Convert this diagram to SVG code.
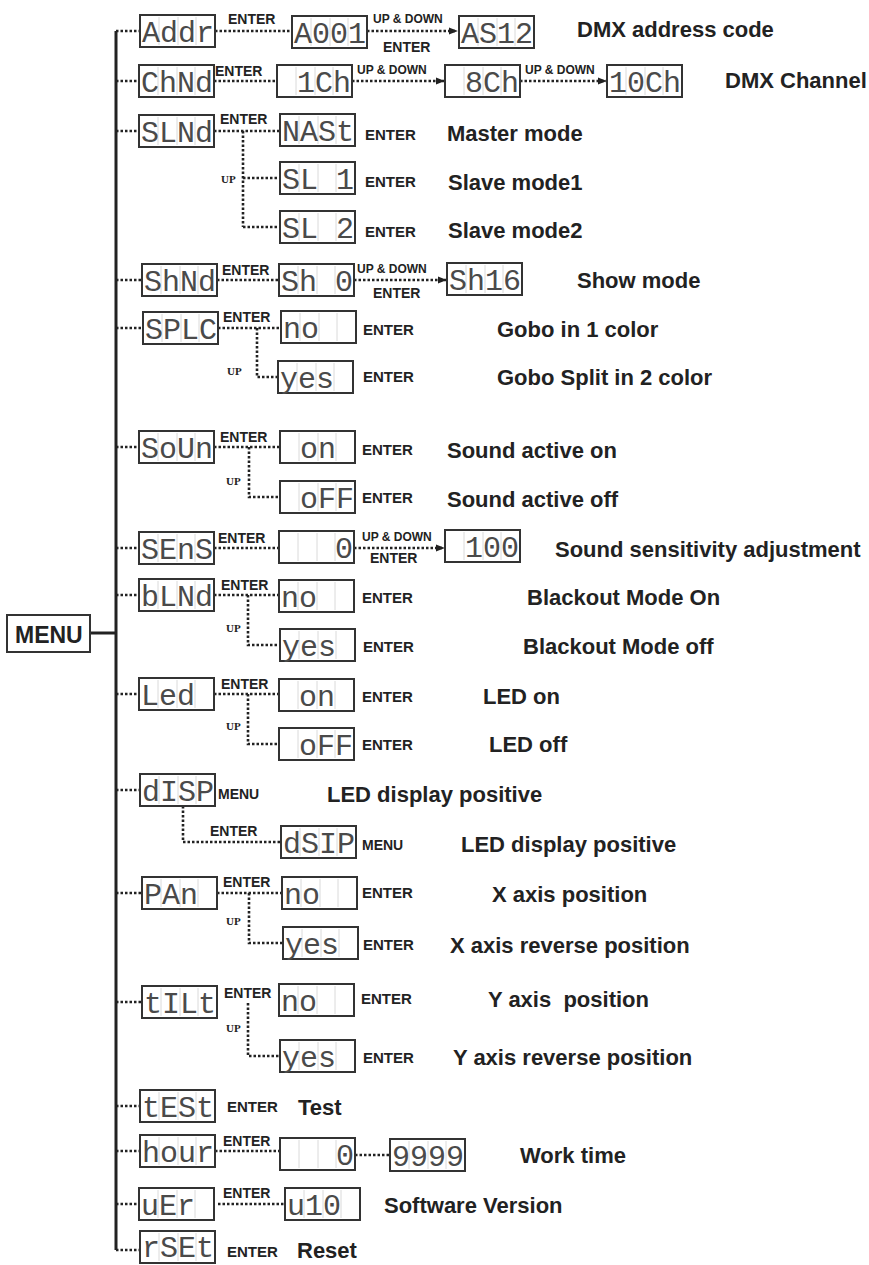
<svg xmlns="http://www.w3.org/2000/svg" width="869" height="1265" viewBox="0 0 869 1265">
<style>
.lcd{font-family:"Liberation Mono","DejaVu Sans Mono",monospace;font-size:30px;fill:#4a4a4a;white-space:pre}
.desc{font-family:"Liberation Sans",Arial,sans-serif;font-weight:bold;font-size:22px;fill:#222;white-space:pre}
.en{font-family:"Liberation Sans",Arial,sans-serif;font-weight:bold;font-size:14px;fill:#222}
.enr{font-family:"Liberation Sans",Arial,sans-serif;font-weight:bold;font-size:15px;fill:#222}
.ud{font-family:"Liberation Sans",Arial,sans-serif;font-weight:bold;font-size:12px;fill:#222}
.up{font-family:"Liberation Serif","Times New Roman",serif;font-weight:bold;font-size:11px;fill:#222}
.mn{font-family:"Liberation Sans",Arial,sans-serif;font-weight:bold;font-size:14px;fill:#222}
.dot{fill:none;stroke:#222;stroke-width:2.6;stroke-dasharray:2.5 2}
.solid{fill:none;stroke:#222;stroke-width:3}
</style>
<defs>
<marker id="ah" viewBox="0 0 10 10" refX="9" refY="5" markerWidth="9" markerHeight="9" markerUnits="userSpaceOnUse" orient="auto"><path d="M0,1L10,5L0,9z" fill="#222"/></marker>
<g id="lcd"><rect x="0" y="0" width="75" height="32" fill="#fff" stroke="#333" stroke-width="2"/><path d="M19,2V30M38,2V30M56,2V30" stroke="#dadada" stroke-width="1"/></g>
</defs>
<rect width="869" height="1265" fill="#fff"/>

<g id="connectors">
<path class="solid" d="M116,31V1250"/>
<path class="solid" d="M90,633H116"/>
<path class="dot" d="M116,31H140M116,81H139M116,131H139M116,280H142M116,328H143M116,447H139M116,548H139M116,595H139M116,694H139M116,790H140M116,893H142M116,1002H142M116,1106H140M116,1151H140M116,1204H139M116,1250H140"/>
<path class="dot" d="M215,31H292"/>
<path class="dot" d="M367,31H457" marker-end="url(#ah)"/>
<path class="dot" d="M214,81H277"/>
<path class="dot" d="M352,81H444" marker-end="url(#ah)"/>
<path class="dot" d="M520,81H606" marker-end="url(#ah)"/>
<path class="dot" d="M214,131H280M243,131V227M243,178H280M243,227H280"/>
<path class="dot" d="M217,280H279"/>
<path class="dot" d="M354,280H446" marker-end="url(#ah)"/>
<path class="dot" d="M218,328H281M257,328V377H278"/>
<path class="dot" d="M214,447H280M249,447V497H280"/>
<path class="dot" d="M214,548H279"/>
<path class="dot" d="M354,548H444" marker-end="url(#ah)"/>
<path class="dot" d="M214,595H279M248,595V645H280"/>
<path class="dot" d="M214,694H279M248,694V744H279"/>
<path class="dot" d="M183,806V842H281"/>
<path class="dot" d="M217,893H282M249,893V943H283"/>
<path class="dot" d="M248,1003V1056H280"/>
<path class="dot" d="M215,1151H280M355,1155H390"/>
<path class="dot" d="M218,1204H285"/>
</g>

<g id="labels">
<text class="en" x="228" y="24">ENTER</text>
<text class="ud" x="373" y="23">UP &amp; DOWN</text>
<text class="en" x="383" y="52">ENTER</text>
<text class="en" x="215" y="76">ENTER</text>
<text class="ud" x="357" y="74">UP &amp; DOWN</text>
<text class="ud" x="525" y="74">UP &amp; DOWN</text>
<text class="en" x="220" y="124">ENTER</text>
<text class="up" x="221" y="183">UP</text>
<text class="en" x="222" y="275">ENTER</text>
<text class="ud" x="357" y="273">UP &amp; DOWN</text>
<text class="en" x="373" y="298">ENTER</text>
<text class="en" x="223" y="322">ENTER</text>
<text class="up" x="227" y="375">UP</text>
<text class="en" x="220" y="442">ENTER</text>
<text class="up" x="226" y="485">UP</text>
<text class="en" x="218" y="543">ENTER</text>
<text class="ud" x="362" y="541">UP &amp; DOWN</text>
<text class="en" x="370" y="563">ENTER</text>
<text class="en" x="221" y="590">ENTER</text>
<text class="up" x="226" y="632">UP</text>
<text class="en" x="221" y="689">ENTER</text>
<text class="up" x="226" y="730">UP</text>
<text class="en" x="210" y="836">ENTER</text>
<text class="en" x="223" y="887">ENTER</text>
<text class="up" x="226" y="925">UP</text>
<text class="en" x="224" y="998">ENTER</text>
<text class="up" x="226" y="1032">UP</text>
<text class="en" x="223" y="1146">ENTER</text>
<text class="en" x="223" y="1198">ENTER</text>
</g>

<g id="menu"><rect x="7" y="615" width="83" height="37" fill="#fff" stroke="#333" stroke-width="2"/><text class="desc" x="15" y="643" style="font-size:23px">MENU</text></g>

<g id="n-addr"><use href="#lcd" x="140" y="15"/><text class="lcd" x="142" y="42">Addr</text></g>
<g id="n-a001"><use href="#lcd" x="292" y="16"/><text class="lcd" x="294" y="43">A001</text></g>
<g id="n-as12"><use href="#lcd" x="459" y="16"/><text class="lcd" x="461" y="43">AS12</text></g>
<text class="desc" x="577" y="37">DMX address code</text>

<g id="n-chnd"><use href="#lcd" x="139" y="65"/><text class="lcd" x="141" y="92">ChNd</text></g>
<g id="n-1ch"><use href="#lcd" x="277" y="65"/><text class="lcd" x="279" y="92"> 1Ch</text></g>
<g id="n-8ch"><use href="#lcd" x="445" y="65"/><text class="lcd" x="447" y="92"> 8Ch</text></g>
<g id="n-10ch"><use href="#lcd" x="607" y="65"/><text class="lcd" x="609" y="92">10Ch</text></g>
<text class="desc" x="725" y="88">DMX Channel</text>

<g id="n-slnd"><use href="#lcd" x="139" y="115"/><text class="lcd" x="141" y="142">SLNd</text></g>
<g id="n-nast"><use href="#lcd" x="280" y="114"/><text class="lcd" x="282" y="141">NASt</text><text class="enr" x="365" y="140">ENTER</text></g>
<text class="desc" x="447" y="141">Master mode</text>
<g id="n-sl1"><use href="#lcd" x="280" y="162"/><text class="lcd" x="282" y="189">SL 1</text><text class="enr" x="365" y="187">ENTER</text></g>
<text class="desc" x="448" y="190">Slave mode1</text>
<g id="n-sl2"><use href="#lcd" x="280" y="211"/><text class="lcd" x="282" y="238">SL 2</text><text class="enr" x="365" y="237">ENTER</text></g>
<text class="desc" x="448" y="238">Slave mode2</text>

<g id="n-shnd"><use href="#lcd" x="142" y="264"/><text class="lcd" x="144" y="291">ShNd</text></g>
<g id="n-sh0"><use href="#lcd" x="279" y="264"/><text class="lcd" x="281" y="291">Sh 0</text></g>
<g id="n-sh16"><use href="#lcd" x="447" y="263"/><text class="lcd" x="449" y="290">Sh16</text></g>
<text class="desc" x="577" y="288">Show mode</text>

<g id="n-splc"><use href="#lcd" x="143" y="312"/><text class="lcd" x="145" y="339">SPLC</text></g>
<g id="n-splc-no"><use href="#lcd" x="281" y="311"/><text class="lcd" x="283" y="338">no  </text><text class="enr" x="363" y="335">ENTER</text></g>
<text class="desc" x="497" y="337">Gobo in 1 color</text>
<g id="n-splc-yes"><use href="#lcd" x="278" y="361"/><text class="lcd" x="280" y="388">yes </text><text class="enr" x="363" y="382">ENTER</text></g>
<text class="desc" x="497" y="385">Gobo Split in 2 color</text>

<g id="n-soun"><use href="#lcd" x="139" y="431"/><text class="lcd" x="141" y="458">SoUn</text></g>
<g id="n-soun-on"><use href="#lcd" x="280" y="431"/><text class="lcd" x="282" y="458"> on </text><text class="enr" x="362" y="455">ENTER</text></g>
<text class="desc" x="447" y="458">Sound active on</text>
<g id="n-soun-off"><use href="#lcd" x="280" y="481"/><text class="lcd" x="282" y="508"> oFF</text><text class="enr" x="362" y="503">ENTER</text></g>
<text class="desc" x="447" y="507">Sound active off</text>

<g id="n-sens"><use href="#lcd" x="139" y="532"/><text class="lcd" x="141" y="559">SEnS</text></g>
<g id="n-sens-0"><use href="#lcd" x="279" y="531"/><text class="lcd" x="281" y="558">   0</text></g>
<g id="n-sens-100"><use href="#lcd" x="445" y="530"/><text class="lcd" x="447" y="557"> 100</text></g>
<text class="desc" x="555" y="557">Sound sensitivity adjustment</text>

<g id="n-blnd"><use href="#lcd" x="139" y="579"/><text class="lcd" x="141" y="606">bLNd</text></g>
<g id="n-blnd-no"><use href="#lcd" x="279" y="580"/><text class="lcd" x="281" y="607">no  </text><text class="enr" x="362" y="603">ENTER</text></g>
<text class="desc" x="527" y="605">Blackout Mode On</text>
<g id="n-blnd-yes"><use href="#lcd" x="280" y="629"/><text class="lcd" x="282" y="656">yes </text><text class="enr" x="363" y="652">ENTER</text></g>
<text class="desc" x="523" y="654">Blackout Mode off</text>

<g id="n-led"><use href="#lcd" x="139" y="678"/><text class="lcd" x="141" y="705">Led </text></g>
<g id="n-led-on"><use href="#lcd" x="279" y="679"/><text class="lcd" x="281" y="706"> on </text><text class="enr" x="362" y="702">ENTER</text></g>
<text class="desc" x="483" y="704">LED on</text>
<g id="n-led-off"><use href="#lcd" x="279" y="728"/><text class="lcd" x="281" y="755"> oFF</text><text class="enr" x="362" y="750">ENTER</text></g>
<text class="desc" x="489" y="752">LED off</text>

<g id="n-disp"><use href="#lcd" x="140" y="774"/><text class="lcd" x="142" y="801">dISP</text><text class="mn" x="218" y="799">MENU</text></g>
<text class="desc" x="327" y="802">LED display positive</text>
<g id="n-dsip"><use href="#lcd" x="281" y="826"/><text class="lcd" x="283" y="853">dSIP</text><text class="mn" x="362" y="850">MENU</text></g>
<text class="desc" x="461" y="852">LED display positive</text>

<g id="n-pan"><use href="#lcd" x="142" y="877"/><text class="lcd" x="144" y="904">PAn </text></g>
<g id="n-pan-no"><use href="#lcd" x="282" y="877"/><text class="lcd" x="284" y="904">no  </text><text class="enr" x="362" y="898">ENTER</text></g>
<text class="desc" x="492" y="902">X axis position</text>
<g id="n-pan-yes"><use href="#lcd" x="283" y="927"/><text class="lcd" x="285" y="954">yes </text><text class="enr" x="363" y="950">ENTER</text></g>
<text class="desc" x="450" y="953">X axis reverse position</text>

<g id="n-tilt"><use href="#lcd" x="142" y="986"/><text class="lcd" x="144" y="1013">tILt</text></g>
<g id="n-tilt-no"><use href="#lcd" x="279" y="984"/><text class="lcd" x="281" y="1011">no  </text><text class="enr" x="361" y="1004">ENTER</text></g>
<text class="desc" x="488" y="1007" xml:space="preserve">Y axis  position</text>
<g id="n-tilt-yes"><use href="#lcd" x="280" y="1040"/><text class="lcd" x="282" y="1067">yes </text><text class="enr" x="363" y="1063">ENTER</text></g>
<text class="desc" x="453" y="1065">Y axis reverse position</text>

<g id="n-test"><use href="#lcd" x="140" y="1090"/><text class="lcd" x="142" y="1117">tESt</text><text class="enr" x="227" y="1112">ENTER</text></g>
<text class="desc" x="298" y="1115">Test</text>

<g id="n-hour"><use href="#lcd" x="140" y="1135"/><text class="lcd" x="142" y="1162">hour</text></g>
<g id="n-hour-0"><use href="#lcd" x="280" y="1138"/><text class="lcd" x="282" y="1165">   0</text></g>
<g id="n-hour-9999"><use href="#lcd" x="390" y="1139"/><text class="lcd" x="392" y="1166">9999</text></g>
<text class="desc" x="520" y="1163">Work time</text>

<g id="n-uer"><use href="#lcd" x="139" y="1188"/><text class="lcd" x="141" y="1215">uEr </text></g>
<g id="n-u10"><use href="#lcd" x="285" y="1188"/><text class="lcd" x="287" y="1215">u10 </text></g>
<text class="desc" x="384" y="1213">Software Version</text>

<g id="n-rset"><use href="#lcd" x="140" y="1231"/><text class="lcd" x="142" y="1257">rSEt</text><text class="enr" x="227" y="1257">ENTER</text></g>
<text class="desc" x="297" y="1258">Reset</text>
</svg>
